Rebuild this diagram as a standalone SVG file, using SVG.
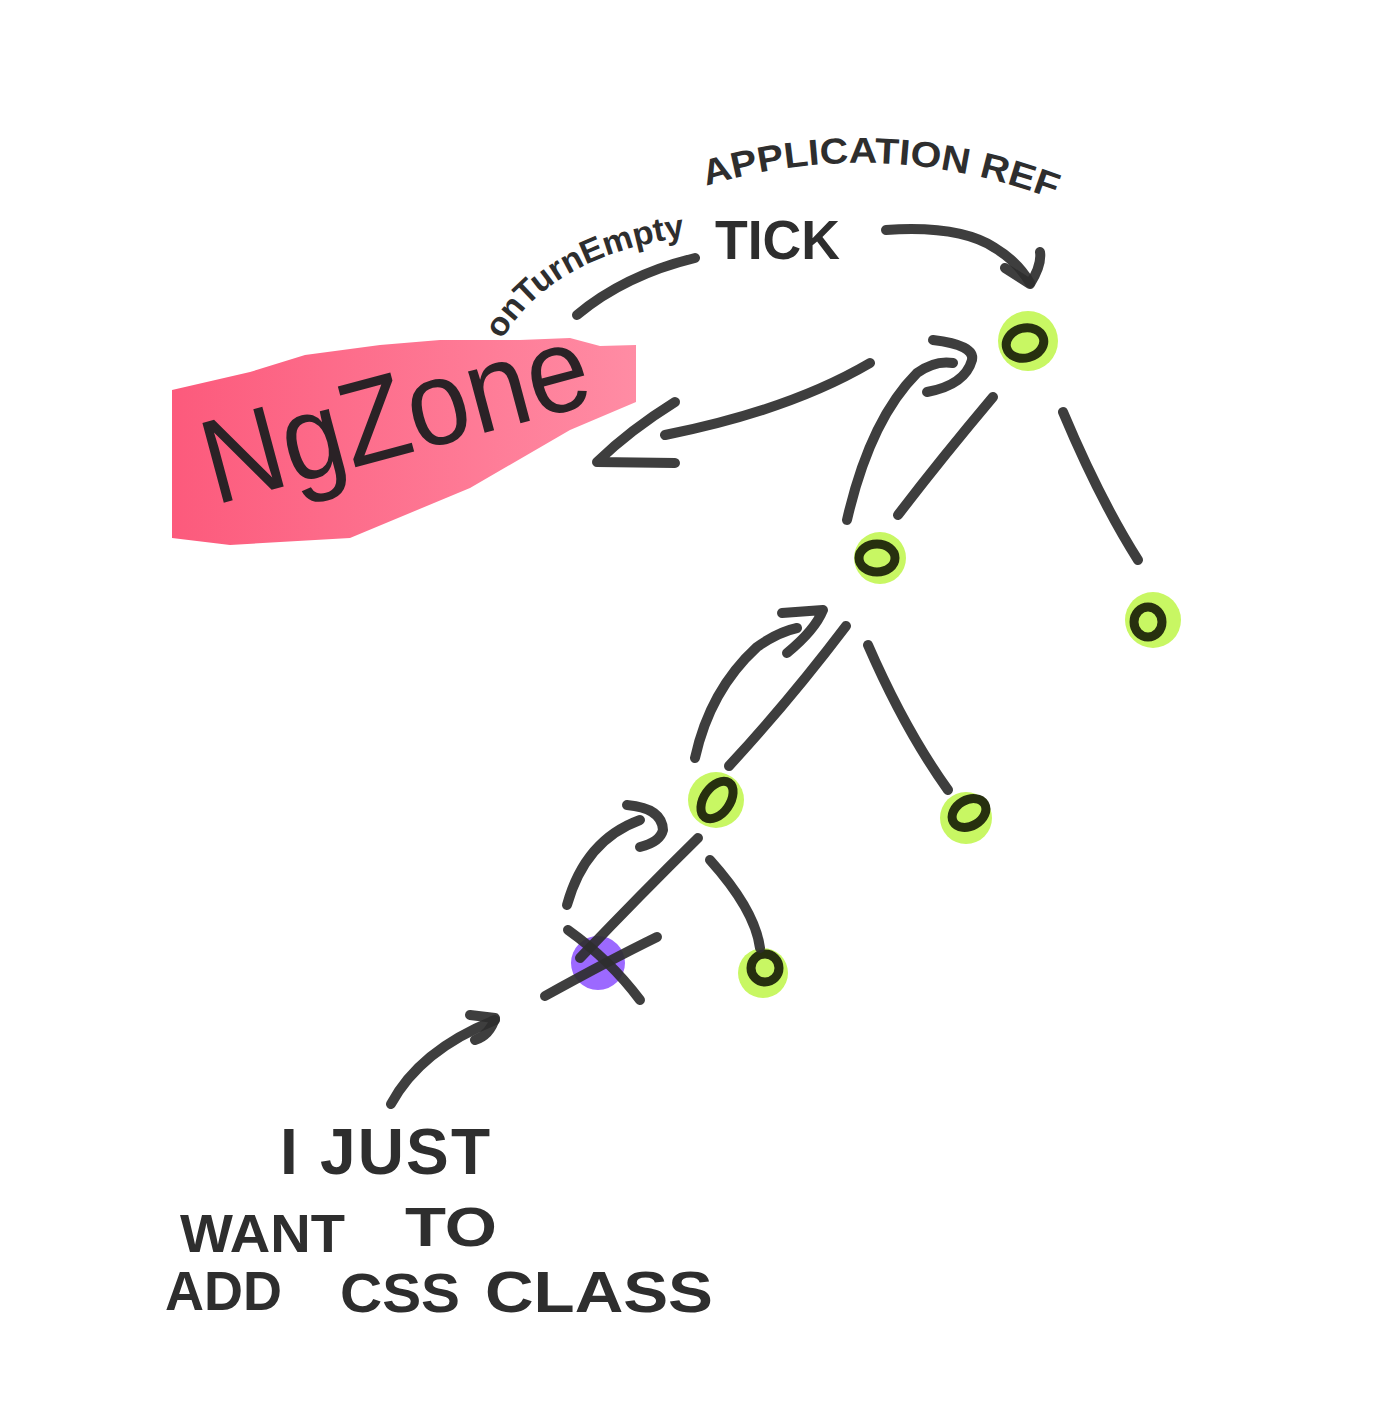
<svg xmlns="http://www.w3.org/2000/svg" width="1396" height="1418" viewBox="0 0 1396 1418">
<defs>
<style>
.ink{fill:none;stroke:#2e2e2e;stroke-opacity:0.92;stroke-width:10;stroke-linecap:round;stroke-linejoin:round}
.ring{fill:none;stroke:#27300f;stroke-width:9}
.lime{fill:#c8f763}
.hand{font-family:"Liberation Sans",Arial,sans-serif;font-weight:bold;fill:#2e2e2e}
</style>
<linearGradient id="pink" x1="0" y1="0" x2="1" y2="0">
<stop offset="0" stop-color="#fc5a7c"/>
<stop offset="1" stop-color="#ff8ca4"/>
</linearGradient>
<path id="otePath" d="M 502 340 Q 555 248 710 234"/>
<path id="arPath" d="M 706 186 Q 885 132 1066 204"/>
</defs>
<rect width="1396" height="1418" fill="#ffffff"/>

<g id="ngzone">
<polygon fill="url(#pink)" points="172,390 250,372 305,355 380,345 440,340 520,340 570,338 600,346 636,345 636,402 570,430 470,488 350,538 230,545 172,538"/>
<text x="215" y="505" transform="rotate(-15 215 505)" font-family="'Liberation Sans',Arial,sans-serif" font-size="120" fill="#2a2226" textLength="395" lengthAdjust="spacingAndGlyphs">NgZone</text>
</g>

<g id="labels" class="hand">
<text font-size="33"><textPath href="#otePath" textLength="218" lengthAdjust="spacingAndGlyphs">onTurnEmpty</textPath></text>
<text font-size="36"><textPath href="#arPath" textLength="355" lengthAdjust="spacingAndGlyphs">APPLICATION REF</textPath></text>
<text x="715" y="259" font-size="56" textLength="125" lengthAdjust="spacingAndGlyphs">TICK</text>
<text x="280" y="1174" font-size="64" textLength="210" lengthAdjust="spacing">I JUST</text>
<text x="180" y="1252" font-size="54" textLength="165" lengthAdjust="spacingAndGlyphs">WANT</text>
<text x="405" y="1246" font-size="56" textLength="92" lengthAdjust="spacingAndGlyphs">TO</text>
<text x="165" y="1310" font-size="56" textLength="117" lengthAdjust="spacingAndGlyphs">ADD</text>
<text x="340" y="1312" font-size="56" textLength="120" lengthAdjust="spacingAndGlyphs">CSS</text>
<text x="485" y="1312" font-size="58" textLength="228" lengthAdjust="spacingAndGlyphs">CLASS</text>
</g>

<g id="n-root"><circle class="lime" cx="1028" cy="341" r="30"/><ellipse class="ring" cx="1025" cy="343" rx="19" ry="15" transform="rotate(-15 1025 343)"/></g>
<g id="n-a"><circle class="lime" cx="880" cy="558" r="26"/><ellipse class="ring" cx="877" cy="558" rx="18" ry="14"/></g>
<g id="n-b"><circle class="lime" cx="1153" cy="620" r="28"/><ellipse class="ring" cx="1148" cy="622" rx="14" ry="15"/></g>
<g id="n-c"><circle class="lime" cx="716" cy="800" r="28"/><ellipse class="ring" cx="717" cy="800" rx="21" ry="13" transform="rotate(-55 717 800)"/></g>
<g id="n-d"><circle class="lime" cx="966" cy="818" r="26"/><ellipse class="ring" cx="969" cy="813" rx="18" ry="13" transform="rotate(-30 969 813)"/></g>
<g id="n-e"><circle class="lime" cx="763" cy="973" r="25"/><ellipse class="ring" cx="765" cy="968" rx="14" ry="14"/></g>
<g id="n-x"><circle fill="#9c69ff" cx="598" cy="963" r="27"/></g>

<g id="connectors" class="ink">
<path d="M 993 397 Q 940 460 898 515"/>
<path d="M 1063 412 Q 1100 500 1138 560"/>
<path d="M 846 626 Q 790 700 729 766"/>
<path d="M 868 645 Q 905 730 948 790"/>
<path d="M 698 838 Q 640 895 580 958"/>
<path d="M 710 860 Q 755 910 760 948"/>
<path d="M 545 996 Q 610 960 657 937"/>
<path d="M 568 930 Q 610 960 640 1000"/>
<path d="M 847 520 Q 870 420 917 373 Q 935 360 953 363"/>
<path d="M 933 340 Q 975 345 972 360 Q 965 385 927 392"/>
<path d="M 695 758 Q 710 690 757 647 Q 778 632 797 628"/>
<path d="M 782 613 L 823 610 Q 815 630 787 653"/>
<path d="M 567 905 Q 585 840 640 820"/>
<path d="M 627 805 Q 662 808 663 830 Q 660 842 640 847"/>
<path d="M 870 363 Q 790 410 665 435"/>
<path d="M 675 402 Q 630 430 597 462 L 675 463"/>
<path d="M 577 315 Q 625 275 695 258"/>
<path d="M 886 230 Q 960 225 995 248 Q 1018 262 1030 283"/>
<path d="M 1005 268 L 1030 284 Q 1042 265 1040 252"/>
<path d="M 391 1104 Q 420 1050 495 1020"/>
<path d="M 470 1015 L 495 1018 Q 490 1035 475 1040"/>
</g>
</svg>
